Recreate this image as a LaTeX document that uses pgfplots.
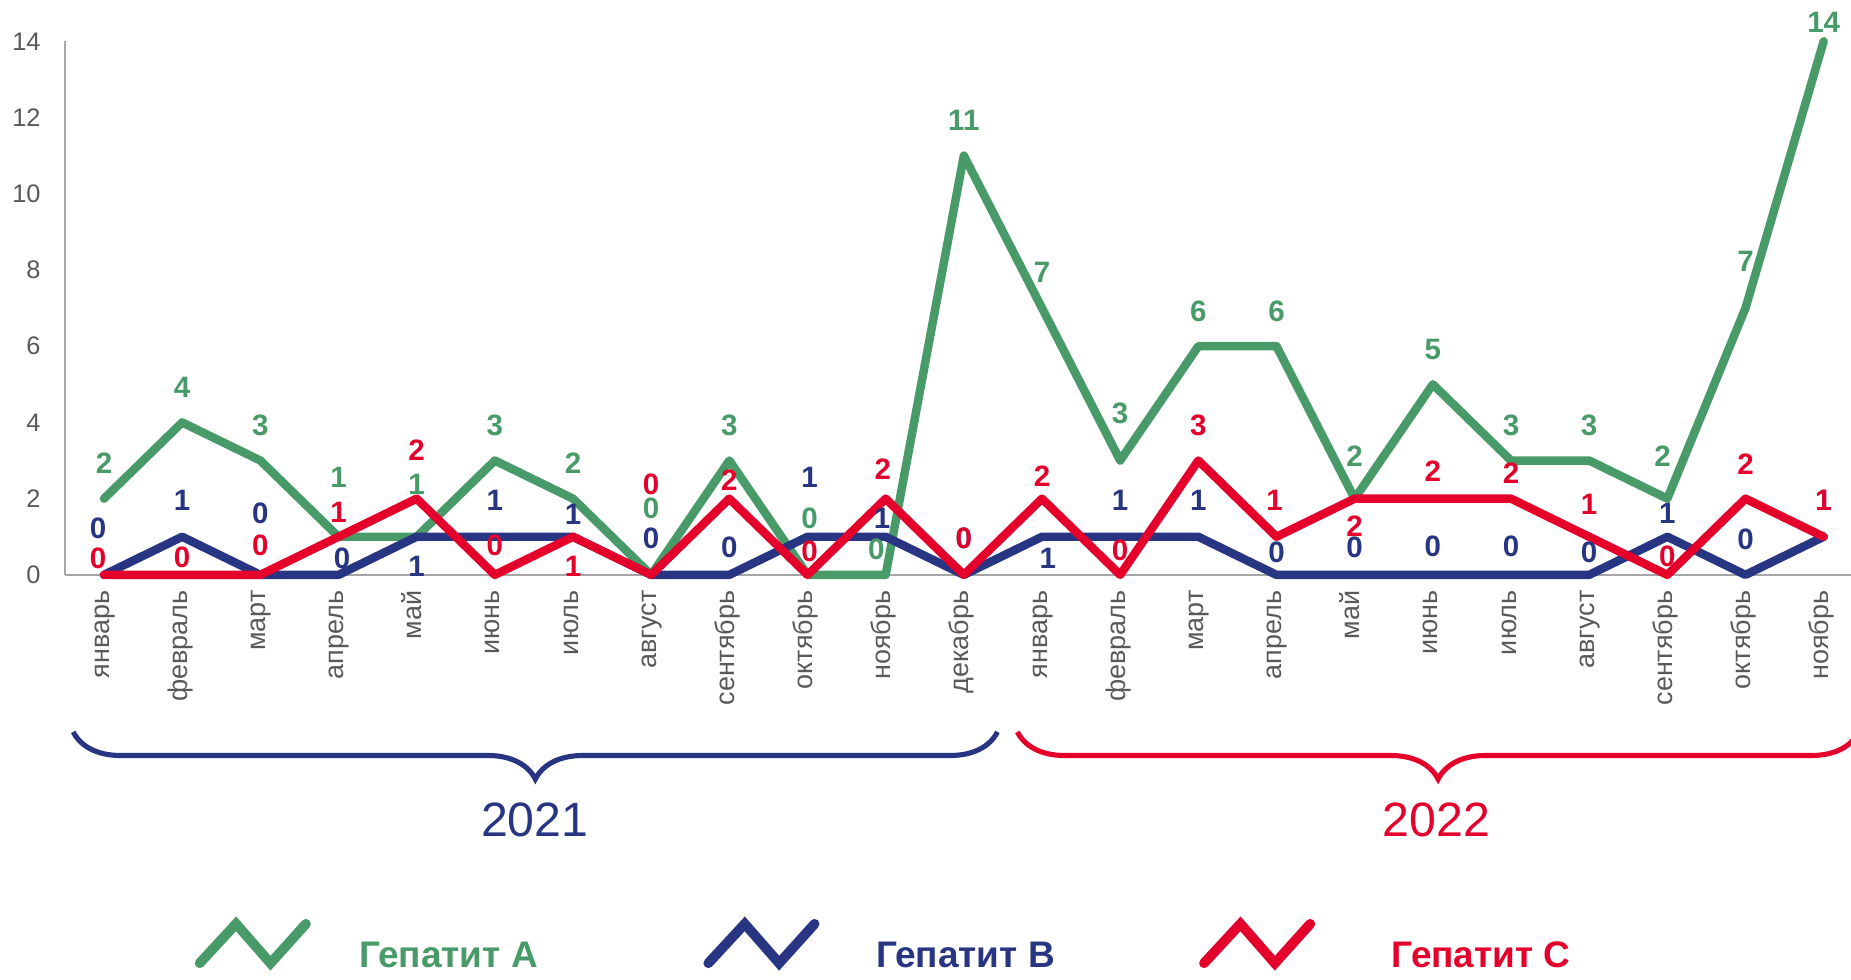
\documentclass[border=0pt]{standalone}
\usepackage{fontspec}
\setmainfont{Liberation Sans}
\usepackage{pgfplots}
\pgfplotsset{compat=1.18}
\usepackage{pgfplotstable}
\usetikzlibrary{decorations.pathreplacing}
\definecolor{cA}{HTML}{489B69}
\definecolor{cB}{HTML}{283583}
\definecolor{cC}{HTML}{E4002B}
\definecolor{tickc}{HTML}{595959}
\definecolor{axl}{HTML}{A6A6A6}

\pgfplotstableread{
x a b c adx ady bdx bdy cdx cdy
0 2 0 0 0 18.2 -3 23.4 -3 8.4
1 4 1 0 0 17.9 0 18.4 0 9
2 3 0 0 0 18.1 0 31.2 0 15
3 1 0 1 0 30.4 1.8 8.4 0 12.4
4 1 1 2 0 26.8 0 -15.2 0 24.8
5 3 1 0 0 18.1 0 18.4 0 15
6 2 1 1 0 18.2 0 11.2 0 -15.2
7 0 0 0 0 33.6 0 18.6 0 46.2
8 3 0 2 0 18.1 0 13.8 0 9.2
9 0 1 0 1 28.8 1 30.4 1 12
10 0 1 2 -4.8 13.2 -1.8 9.4 -1.5 15.2
11 11 0 0 0 17.9 0 18.6 0 18.6
12 7 1 2 0 18 2.9 -11 0 11.6
13 3 1 0 0 24 0 18.4 0 12.6
14 6 1 3 0 17.6 0 18.4 0 18
15 6 0 1 0 17.6 0 11.4 -1 18.4
16 2 0 2 0 21.8 0 13.8 0 -14.2
17 5 0 2 0 17.8 0 14.4 0 14
18 3 0 2 0 18 0 14.4 0 12.8
19 3 0 1 0 18 0 11.4 0 16.6
20 2 1 0 -2.4 21.8 0 11.8 0 9.6
21 7 0 2 0 24 0 18 0 17.6
22 14 1 1 0 9.6 0 18.4 0 18.4
}\data

\begin{document}
\begin{tikzpicture}
\begin{axis}[
  scale only axis, width=907.8bp, height=271.2bp,
  xmin=-0.5, xmax=22.35, ymin=0, ymax=14,
  clip=false,
  axis x line=bottom, axis y line=left,
  axis line style={draw=axl, line width=0.9bp, -},
  every outer x axis line/.append style={-},
  every outer y axis line/.append style={-},
  xtick={0,...,22},
  xticklabels={январь,февраль,март,апрель,май,июнь,июль,август,сентябрь,октябрь,ноябрь,декабрь,январь,февраль,март,апрель,май,июнь,июль,август,сентябрь,октябрь,ноябрь},
  ytick={0,2,...,14},
  major tick length=0pt,
  /pgf/number format/assume math mode=true,
  tick label style={font=\fontsize{12.9bp}{14bp}\selectfont, text=tickc},
  xticklabel style={rotate=90, anchor=east, inner xsep=7.8bp, inner ysep=0pt, text height=0.72em, text depth=0.2em, font=\fontsize{13.7bp}{15bp}\selectfont},
  yticklabel style={anchor=east, inner xsep=12.2bp, inner ysep=0pt},
  legend columns=3,
  legend style={draw=none, fill=none, inner sep=0pt, outer sep=0pt,
    at={(0.0727,-0.6935)}, anchor=west,
    font=\bfseries\fontsize{18.8bp}{20bp}\selectfont,
    /tikz/column 1/.style={column sep=24.6bp},
    /tikz/column 2/.style={column sep=84.2bp},
    /tikz/column 3/.style={column sep=28.8bp},
    /tikz/column 4/.style={column sep=73.4bp},
    /tikz/column 5/.style={column sep=39bp},
    nodes={inner sep=0pt}},
  legend image code/.code={\draw[line width=5bp, line join=miter] (1bp,-3.4bp) -- (19.5bp,16.6bp) -- (37bp,-3.4bp) -- (55bp,16.6bp);},
]
\addplot[cA, line width=4.3bp, line join=round, line cap=round,
  nodes near coords,
  visualization depends on={\thisrow{adx}\as\ldx},
  visualization depends on={\thisrow{ady}\as\ldy},
  every node near coord/.append style={anchor=center, inner sep=0pt, xshift=\ldx bp, yshift=\ldy bp, font=\bfseries\fontsize{15bp}{16bp}\selectfont, text=cA}]
  table[x=x, y=a]{\data};
\addlegendentry{\textcolor{cA}{Гепатит А}}
\addplot[cB, line width=4.3bp, line join=round, line cap=round,
  nodes near coords,
  visualization depends on={\thisrow{bdx}\as\ldx},
  visualization depends on={\thisrow{bdy}\as\ldy},
  every node near coord/.append style={anchor=center, inner sep=0pt, xshift=\ldx bp, yshift=\ldy bp, font=\bfseries\fontsize{15bp}{16bp}\selectfont, text=cB}]
  table[x=x, y=b]{\data};
\addlegendentry{\textcolor{cB}{Гепатит В}}
\addplot[cC, line width=4.3bp, line join=round, line cap=round,
  nodes near coords,
  visualization depends on={\thisrow{cdx}\as\ldx},
  visualization depends on={\thisrow{cdy}\as\ldy},
  every node near coord/.append style={anchor=center, inner sep=0pt, xshift=\ldx bp, yshift=\ldy bp, font=\bfseries\fontsize{15bp}{16bp}\selectfont, text=cC}]
  table[x=x, y=c]{\data};
\addlegendentry{\textcolor{cC}{Гепатит С}}

\draw[cB, line width=2.6bp, decorate, decoration={brace, mirror, amplitude=24bp}] (axis cs:-0.394,-4.12) -- (axis cs:11.43,-4.12);
\draw[cC, line width=2.6bp, decorate, decoration={brace, mirror, amplitude=24bp}] (axis cs:11.685,-4.12) -- (axis cs:22.45,-4.12);
\node[text=cB, font=\fontsize{24.5bp}{28bp}\selectfont] at (axis cs:5.51,-6.44) {2021};
\node[text=cC, font=\fontsize{24.5bp}{28bp}\selectfont] at (axis cs:17.045,-6.44) {2022};
\coordinate (BL) at (axis description cs:-0.03635,-0.7588);
\coordinate (TR) at (axis description cs:1,1.0774);
\end{axis}
\pgfresetboundingbox
\useasboundingbox (BL) rectangle (TR);
\end{tikzpicture}
\end{document}
